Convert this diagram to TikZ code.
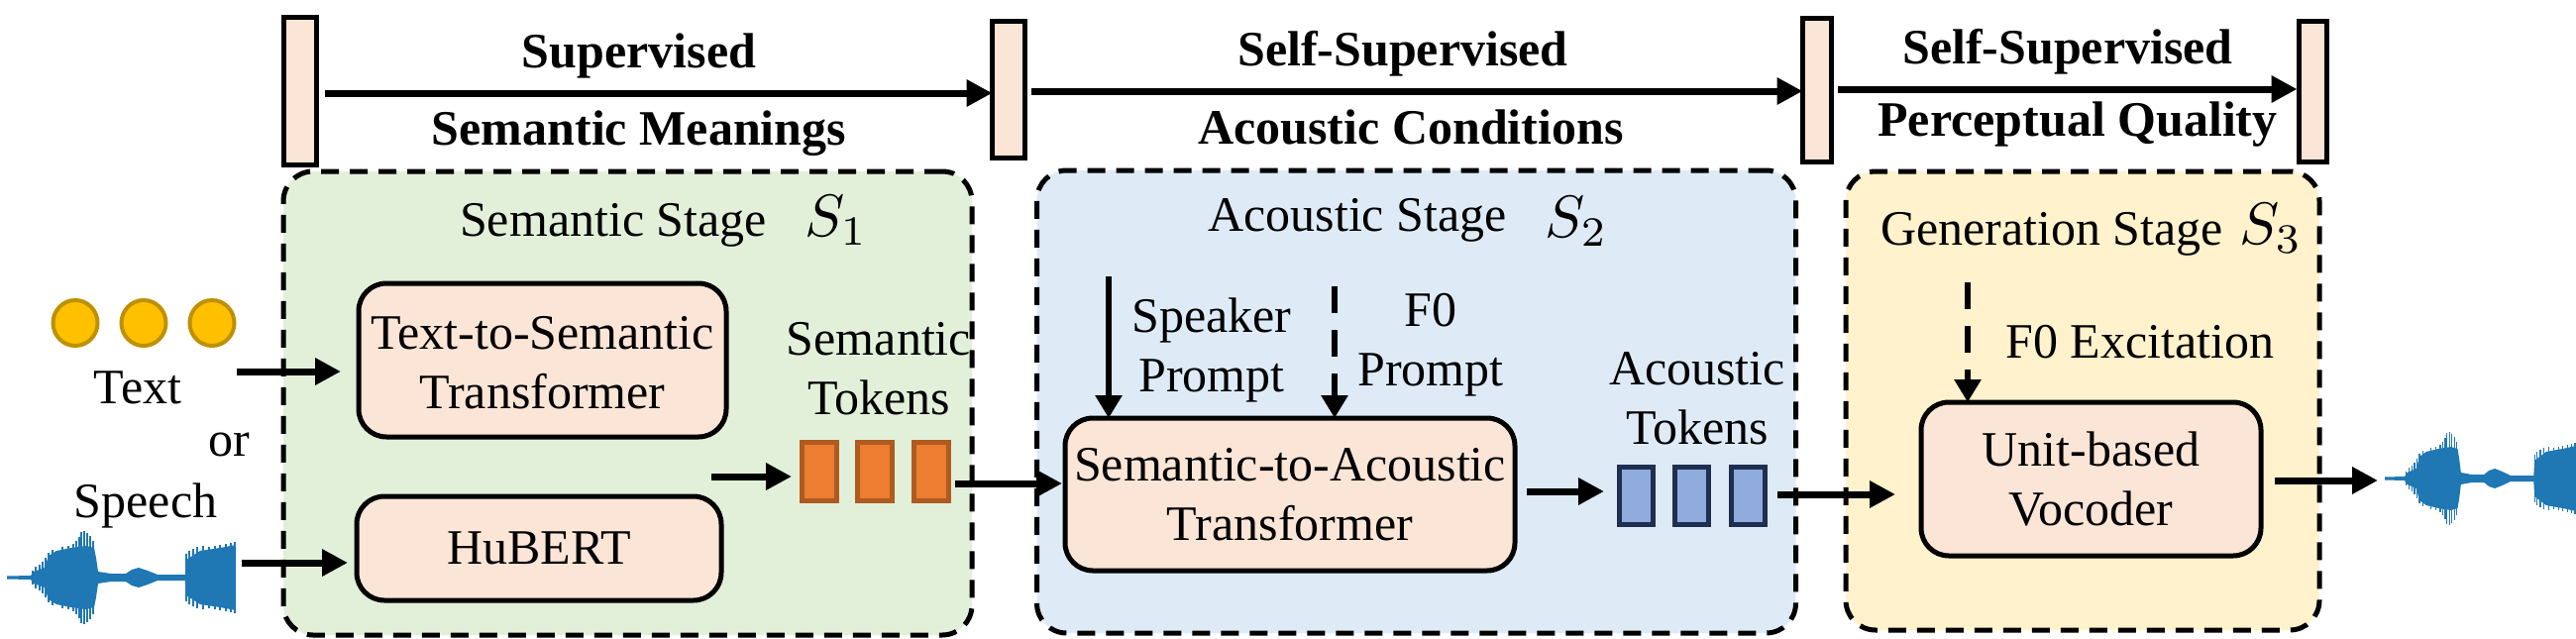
\documentclass[tikz,border=0pt]{standalone}
\usepackage{fontspec}
\setmainfont{Liberation Serif}
\usetikzlibrary{arrows.meta,shapes.geometric}
\definecolor{boxfill}{HTML}{FBE5D6}
\definecolor{greenfill}{HTML}{E2F0D9}
\definecolor{bluefill}{HTML}{DEEBF7}
\definecolor{yellowfill}{HTML}{FFF2CC}
\definecolor{wavecol}{HTML}{1F77B4}
\definecolor{dotfill}{HTML}{FFC000}
\definecolor{dotedge}{HTML}{BF9000}
\definecolor{orangefill}{HTML}{ED7D31}
\definecolor{orangeedge}{HTML}{AE5A21}
\definecolor{bluetokfill}{HTML}{8FAADC}
\definecolor{blueedge}{HTML}{1F2F4F}
\tikzset{
  txt/.style={inner sep=0pt,outer sep=0pt,anchor=base,align=center,font=\fontsize{50}{60}\selectfont},
  boldtxt/.style={txt,font=\fontsize{50}{60}\selectfont\bfseries},
  symb/.style={inner sep=0pt,outer sep=0pt,anchor=base west},
  stage/.style={draw=black,line width=5pt,dash pattern=on 18pt off 11pt,rounded corners=30pt,inner sep=0pt,outer sep=0pt},
  procbox/.style={draw=black,fill=boxfill,line width=5pt,rounded corners=28pt,inner sep=0pt,outer sep=0pt,align=center,font=\fontsize{50}{60}\selectfont},
  bar/.style={draw=black,fill=boxfill,line width=5pt,inner sep=0pt,outer sep=0pt},
  dot/.style={ellipse,draw=dotedge,fill=dotfill,line width=4pt,minimum width=45pt,minimum height=46pt,inner sep=0pt},
  orangetok/.style={draw=orangeedge,fill=orangefill,line width=5pt,minimum width=35pt,minimum height=59pt,inner sep=0pt,outer sep=0pt},
  bluetok/.style={draw=blueedge,fill=bluetokfill,line width=5pt,minimum width=34pt,minimum height=58pt,inner sep=0pt,outer sep=0pt},
  conn/.style={line width=7pt,-{Triangle[length=26pt,width=26pt]}},
  thinconn/.style={line width=6pt,-{Triangle[length=23pt,width=26pt]}},
  dashconn/.style={thinconn,dash pattern=on 27pt off 17pt},
  pics/wave/.style={code={
    \fill[wavecol,line join=round] plot coordinates {
      (0,-1.5)(24,-2)(27,-6)(38,-10)(42,-22)(50,-27)(65,-30)(80,-32)(88,-30)(90,-20)(92,-6)(105,-4)(120,-4)(126,-8)(133,-10)(142,-7)(152,-3)(180,-3)(181,-18)(195,-27)(215,-30)(231,-33)
      (231,33)(215,30)(195,27)(181,18)(180,3)(152,3)(142,7)(133,10)(126,8)(120,4)(105,4)(92,6)(90,20)(88,30)(80,32)(65,30)(50,27)(42,22)(38,10)(27,6)(24,2)(0,1.5)};
    \foreach \x/\a in {26/7,29/11,33/13,36/16,39/20,42/25,46/28,56/31,62/32,67/34,70/37,73/41,75/46,78/47,81/45,84/42,87/37,181/24,184/27,188/29,192/31,198/32,204/31,210/32,215/33,221/34,226/35,230/36}
      \draw[wavecol,line width=1.3pt] (\x,-\a) -- (\x,\a);
  }}
}
\begin{document}
\begin{tikzpicture}[x=1pt,y=-1pt]
\useasboundingbox (0,0) rectangle (2600,645);
% stage panels
\node[stage,fill=greenfill,minimum width=695pt,minimum height=468pt] (st1) at (633.5,407) {};
\node[stage,fill=bluefill,minimum width=766pt,minimum height=467pt] (st2) at (1429.5,405.5) {};
\node[stage,fill=yellowfill,minimum width=478pt,minimum height=463pt] (st3) at (2102,404.5) {};
% bars
\node[bar,minimum width=33pt,minimum height=149pt] (b1) at (303,91.5) {};
\node[bar,minimum width=33pt,minimum height=138pt] (b2) at (1018,90) {};
\node[bar,minimum width=29pt,minimum height=145pt] (b3) at (1834,90.5) {};
\node[bar,minimum width=28pt,minimum height=142pt] (b4) at (2334.5,92) {};
% top labels
\node[boldtxt] (l1) at (645,68) {Supervised};
\node[boldtxt] (l2) at (645,146) {Semantic Meanings};
\node[boldtxt] (l3) at (1416,66) {Self-Supervised};
\node[boldtxt] (l4) at (1424,145) {Acoustic Conditions};
\node[boldtxt] (l5) at (2087,64) {Self-Supervised};
\node[boldtxt] (l6) at (2097,137) {Perceptual Quality};
% stage titles
\node[txt] (t1) at (619,238) {Semantic Stage};
\node[symb] (s1) at (812,238) {\scalebox{6}{$S_1$}};
\node[txt] (t2) at (1370,233) {Acoustic Stage};
\node[symb] (s2) at (1559,239) {\scalebox{6}{$S_2$}};
\node[txt] (t3) at (2071,247) {Generation Stage};
\node[symb] (s3) at (2260,246) {\scalebox{6}{$S_3$}};
% process boxes
\node[procbox,minimum width=371pt,minimum height=155pt] (tts) at (547.5,363.5) {\rule{0pt}{38pt}Text-to-Semantic\\Transformer};
\node[procbox,minimum width=368pt,minimum height=105pt] (hub) at (544,553.5) {HuBERT};
\node[procbox,minimum width=454pt,minimum height=154pt] (sa) at (1302,499) {Semantic-to-Acoustic\\Transformer};
\node[procbox,minimum width=343pt,minimum height=155pt] (voc) at (2110.5,483.5) {Unit-based\\Vocoder};
% inputs
\node[dot] (d1) at (76,326) {};
\node[dot] (d2) at (145,326) {};
\node[dot] (d3) at (214,326) {};
\node[txt] (text) at (139,407) {Text};
\node[txt] (or) at (231,460) {or};
\node[txt] (speech) at (147,522) {Speech};
\pic at (7,583) {wave};
\pic[xscale=0.835] at (2407,483) {wave};
% semantic tokens
\node[txt] (semtok) at (887,418) {Semantic\\Tokens};
\node[orangetok] (o1) at (826.5,475.5) {};
\node[orangetok] (o2) at (882.5,475.5) {};
\node[orangetok] (o3) at (939.5,475.5) {};
% acoustic tokens
\node[txt] (acotok) at (1713,448) {Acoustic\\Tokens};
\node[bluetok] (u1) at (1651,500) {};
\node[bluetok] (u2) at (1707,500) {};
\node[bluetok] (u3) at (1764,500) {};
% prompts
\node[txt] (spk) at (1223,395) {Speaker\\Prompt};
\node[txt] (f0p) at (1444,389) {F0\\Prompt};
\node[txt] (f0e) at (2160,361) {F0 Excitation};
% free ends
\coordinate (c1) at (328,94);
\coordinate (c2) at (1041,92);
\coordinate (c3) at (1855,90);
\coordinate (c4) at (239,375);
\coordinate (c5) at (244,568);
\coordinate (c6) at (718,481);
\coordinate (c7) at (964,488);
\coordinate (c8) at (1541,496);
\coordinate (c9) at (1794,499);
\coordinate (c10) at (2296,485);
\coordinate (c11) at (1119,279);
\coordinate (c12) at (1347,289);
\coordinate (c13) at (1986,285);
\coordinate (c14) at (2400,485);
% connectors
\draw[conn] (c1) -- (c1 -| b2.west);
\draw[conn] (c2) -- (c2 -| b3.west);
\draw[conn,shorten >=2pt] (c3) -- (c3 -| b4.west);
\draw[conn,shorten >=18pt] (c4) -- (c4 -| tts.west);
\draw[conn,shorten >=9pt] (c5) -- (c5 -| hub.west);
\draw[conn,shorten >=10pt] (c6) -- (c6 -| o1.west);
\draw[conn,shorten >=3pt] (c7) -- (c7 -| sa.west);
\draw[conn,shorten >=15pt] (c8) -- (c8 -| u1.west);
\draw[conn,shorten >=26pt] (c9) -- (c9 -| voc.west);
\draw[conn] (c10) -- (c14);
\draw[thinconn] (c11) -- (c11 |- sa.north);
\draw[dashconn] (c12) -- (c12 |- sa.north);
\draw[dashconn] (c13) -- (c13 |- voc.north);
\end{tikzpicture}
\end{document}
